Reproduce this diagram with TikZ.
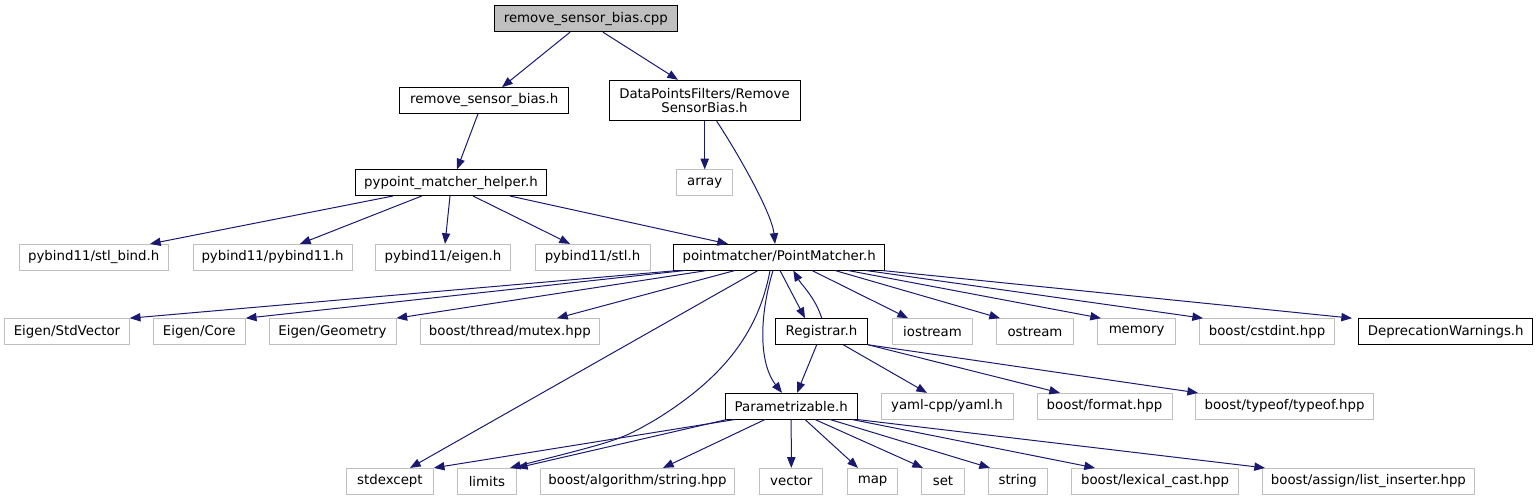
\documentclass[tikz,border=0pt]{standalone}
\usepackage{fontspec}
\setmainfont{DejaVu Sans}
\usetikzlibrary{arrows.meta,calc}
\definecolor{edgeblue}{HTML}{191970}
\definecolor{greyl}{HTML}{BFBFBF}
\begin{document}
\begin{tikzpicture}[x=0.75pt,y=-0.75pt,
  every node/.style={font=\fontsize{10}{11}\selectfont, inner sep=0pt, line width=0.75pt, minimum height=19.2pt, text=black, fill=white},
  bw/.style={minimum width=#1*0.75pt},
  leaf/.style={draw=greyl},
  inc/.style={draw=black},
  root/.style={draw=black, fill=greyl},
  dep/.style={draw=edgeblue, line width=0.75pt, -{Triangle[length=8pt,width=6.2pt]}},
]
\useasboundingbox (0,0) rectangle (1538,500);

% row 0
\node[root, bw=183, minimum height=19.5pt] (cpp) at (585.8,18.7) {remove\_sensor\_bias.cpp};
% row 1
\node[inc, bw=168.7] (rsbh) at (484.3,100.5) {remove\_sensor\_bias.h};
\node[inc, bw=191, minimum height=30.3pt, align=center] (dpf) at (704.5,100.5) {DataPointsFilters/Remove\\SensorBias.h};
% row 2
\node[inc, bw=191.4] (pyh) at (451,182.7) {pypoint\_matcher\_helper.h};
\node[leaf, bw=56] (array) at (704.7,182.7) {array};
% row 3
\node[leaf, bw=149.3] (stlbind) at (93.7,257.2) {pybind11/stl\_bind.h};
\node[leaf, bw=159] (pyb) at (272.5,257.2) {pybind11/pybind11.h};
\node[leaf, bw=134.6] (eig) at (443,257.2) {pybind11/eigen.h};
\node[leaf, bw=115] (stl) at (592.5,257.2) {pybind11/stl.h};
\node[inc, bw=211] (pm) at (779.2,257.2) {pointmatcher/PointMatcher.h};
% row 4
\node[leaf, bw=124.6] (stdvec) at (67,331.5) {Eigen/StdVector};
\node[leaf, bw=92.3] (core) at (199.2,331.5) {Eigen/Core};
\node[leaf, bw=127] (geom) at (332.5,331.5) {Eigen/Geometry};
\node[leaf, bw=179] (mutex) at (509.8,331.5) {boost/thread/mutex.hpp};
\node[inc, bw=92.4] (reg) at (821.5,331.5) {Registrar.h};
\node[leaf, bw=80.4] (iostr) at (932.5,331.5) {iostream};
\node[leaf, bw=76.7] (ostr) at (1035,331.5) {ostream};
\node[leaf, bw=77.5] (memory) at (1136.6,331.5) {memory};
\node[leaf, bw=135] (cstdint) at (1267,331.5) {boost/cstdint.hpp};
\node[inc, bw=174.3] (depr) at (1445.7,331.5) {DeprecationWarnings.h};
% row 5
\node[inc, bw=132.3] (param) at (791.2,406.2) {Parametrizable.h};
\node[leaf, bw=132] (yaml) at (947,406.2) {yaml-cpp/yaml.h};
\node[leaf, bw=135] (format) at (1104.5,406.2) {boost/format.hpp};
\node[leaf, bw=177.7] (typeof) at (1284.5,406.2) {boost/typeof/typeof.hpp};
% row 6
\node[leaf, bw=86.8] (stdexc) at (389.9,481.2) {stdexcept};
\node[leaf, bw=59] (limits) at (486.9,481.2) {limits};
\node[leaf, bw=194.8] (algstr) at (637.5,481.2) {boost/algorithm/string.hpp};
\node[leaf, bw=63.2] (vector) at (791.3,481.2) {vector};
\node[leaf, bw=50.5] (map) at (872.6,481.2) {map};
\node[leaf, bw=42.5] (set) at (943,481.2) {set};
\node[leaf, bw=59.3] (string) at (1017.7,481.2) {string};
\node[leaf, bw=167.3] (lexcast) at (1155,481.2) {boost/lexical\_cast.hpp};
\node[leaf, bw=212.8] (listins) at (1368.4,481.2) {boost/assign/list\_inserter.hpp};

\coordinate (lbend) at (655,420);

% edges
\draw[dep] ($(cpp.south)+(-15.8,0)$) -- ($(rsbh.north)+(17.7,0)$);
\draw[dep] ($(cpp.south)+(17.2,0)$) -- ($(dpf.north)+(-26.5,0)$);
\draw[dep] ($(rsbh.south)+(-6.3,0)$) -- ($(pyh.north)+(6,0)$);
\draw[dep] ($(dpf.south)+(0.2,0)$) -- (array.north);
\draw[dep] ($(dpf.south)+(12.2,0)$) .. controls +(23,35) and +(-3,-30) .. ($(pm.north)+(-4.2,0)$);

\draw[dep] ($(pyh.south)+(-58,0)$) -- ($(stlbind.north)+(56.3,0)$);
\draw[dep] ($(pyh.south)+(-29.3,0)$) -- ($(pyb.north)+(27.5,0)$);
\draw[dep] ($(pyh.south)+(-1,0)$) -- ($(eig.north)+(2,0)$);
\draw[dep] ($(pyh.south)+(22,0)$) -- ($(stl.north)+(-22.5,0)$);
\draw[dep] ($(pyh.south)+(59,0)$) -- ($(pm.north)+(-51.2,0)$);

\draw[dep] ($(pm.south)+(-101.2,0)$) -- (stdvec.north east);
\draw[dep] ($(pm.south)+(-94.2,0)$) -- (core.north east);
\draw[dep] ($(pm.south)+(-72.2,0)$) -- (geom.north east);
\draw[dep] ($(pm.south)+(-44.2,0)$) -- ($(mutex.north)+(47.2,0)$);
\draw[dep] ($(pm.south)+(-21.2,0)$) -- ($(stdexc.north)+(20.1,0)$);
\draw[dep] ($(pm.south)+(-9.2,0)$) .. controls +(-12,65) and +(65,-40) .. (lbend) .. controls +(-35,20) .. ($(limits.north)+(23.1,0)$);
\draw[dep] ($(pm.south)+(-6.2,0)$) .. controls +(-15,50) and +(-22,-28) .. ($(param.north)+(-9.2,0)$);
\draw[dep] ($(pm.south)+(0.8,0)$) -- ($(reg.north)+(-16.5,0)$);
\draw[dep] ($(reg.north)+(0.2,0)$) .. controls +(-6,-20) and +(8,14) .. ($(pm.south)+(14.1,0)$);
\draw[dep] ($(pm.south)+(32.8,0)$) -- ($(iostr.north)+(-24.5,0)$);
\draw[dep] ($(pm.south)+(55.8,0)$) -- ($(ostr.north)+(-35,0)$);
\draw[dep] ($(pm.south)+(68.8,0)$) -- ($(memory.north)+(-35.6,0)$);
\draw[dep] ($(pm.south)+(86.8,0)$) -- ($(cstdint.north)+(-64,0)$);
\draw[dep] ($(pm.south)+(102.8,0)$) -- ($(depr.north)+(-93.7,0)$);

\draw[dep] ($(reg.south)+(-4.8,0)$) -- ($(param.north)+(5.8,0)$);
\draw[dep] ($(reg.south)+(21.8,0)$) -- ($(yaml.north)+(-20,0)$);
\draw[dep] (reg.south east) -- ($(format.north)+(-44.5,0)$);
\draw[dep] (reg.south east) -- ($(typeof.north)+(-86.5,0)$);

\draw[dep] ($(param.south)+(-56.2,0)$) -- (stdexc.north east);
\draw[dep] ($(param.south)+(-64.2,0)$) -- (limits.north east);
\draw[dep] ($(param.south)+(-26.2,0)$) -- ($(algstr.north)+(25.5,0)$);
\draw[dep] (param.south) -- (vector.north);
\draw[dep] ($(param.south)+(13.8,0)$) -- ($(map.north)+(-14.6,0)$);
\draw[dep] ($(param.south)+(23.8,0)$) -- ($(set.north)+(-20,0)$);
\draw[dep] ($(param.south)+(38.8,0)$) -- ($(string.north)+(-27.7,0)$);
\draw[dep] ($(param.south)+(60.8,0)$) -- ($(lexcast.north)+(-60,0)$);
\draw[dep] ($(param.south)+(65.8,0)$) -- ($(listins.north)+(-103.4,0)$);
\end{tikzpicture}
\end{document}
